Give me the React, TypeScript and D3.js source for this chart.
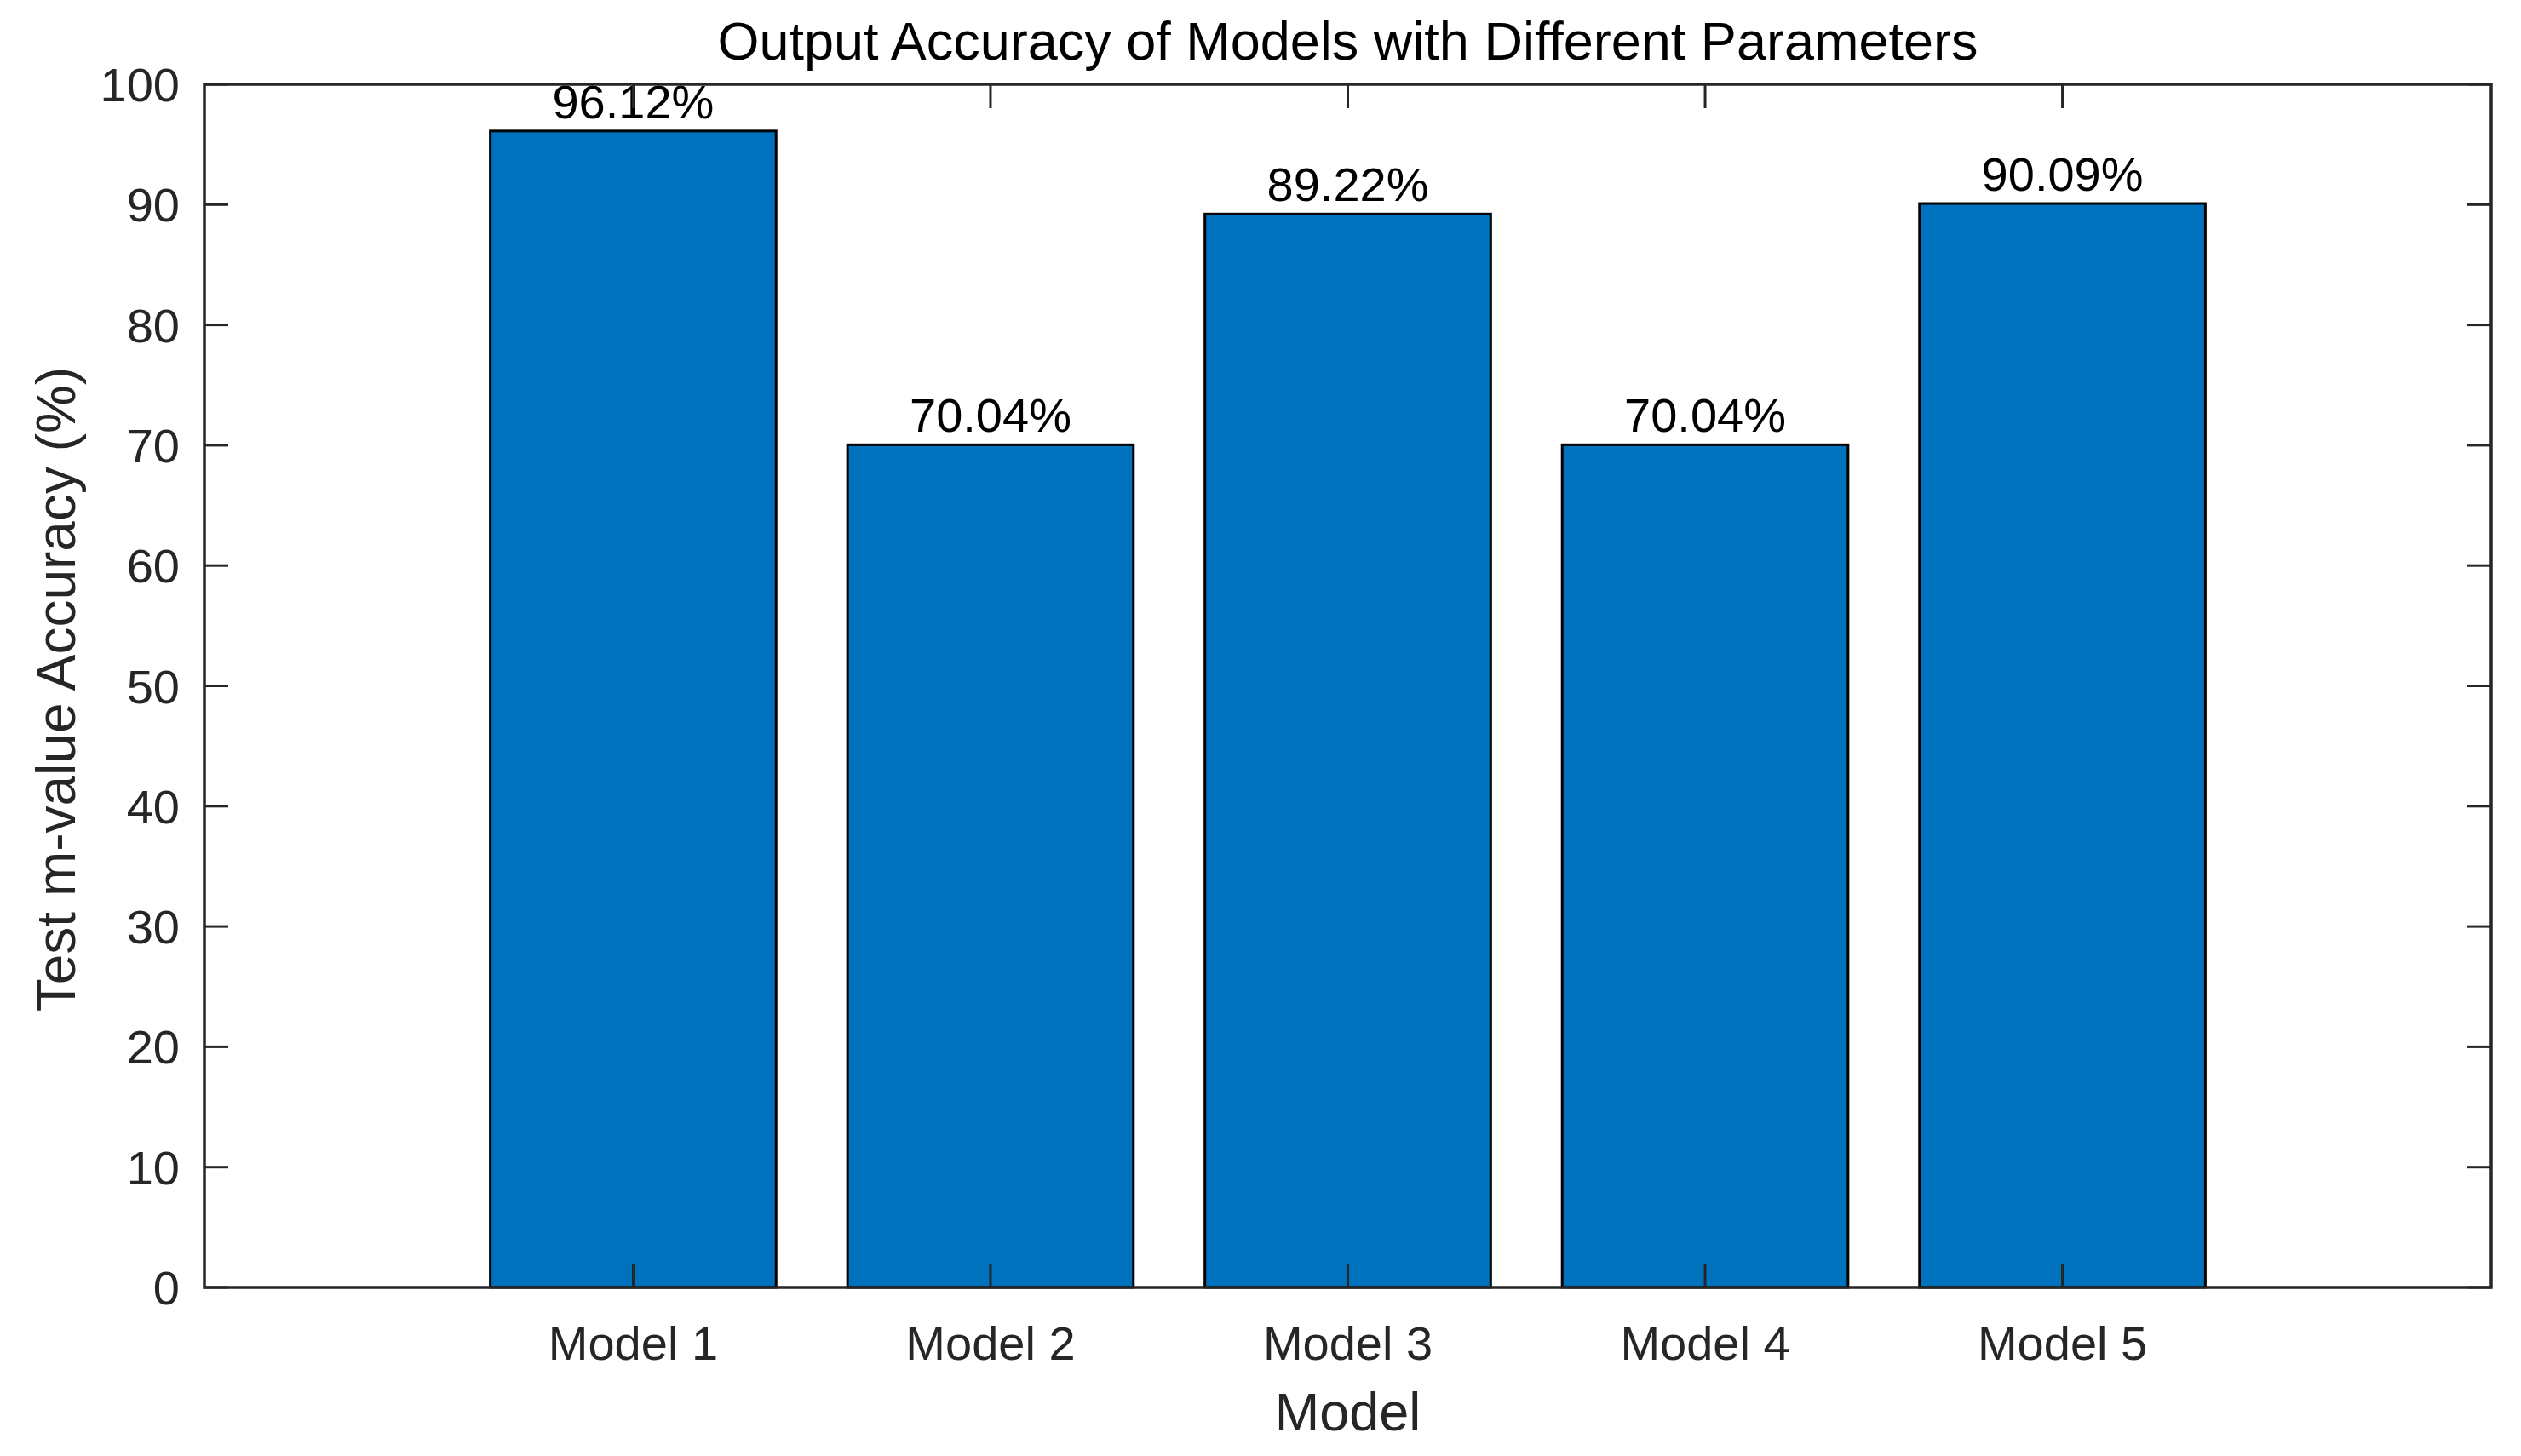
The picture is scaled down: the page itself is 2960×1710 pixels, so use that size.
import React from "react";
import * as d3 from "d3";

const categories = ["Model 1", "Model 2", "Model 3", "Model 4", "Model 5"];
const accuracy = [96.12, 70.04, 89.22, 70.04, 90.09];
const valueLabels = ["96.12%", "70.04%", "89.22%", "70.04%", "90.09%"];
const yTicks = [0, 10, 20, 30, 40, 50, 60, 70, 80, 90, 100];
const title = "Output Accuracy of Models with Different Parameters";
const xLabel = "Model";
const yLabel = "Test m-value Accuracy (%)";

const W = 2960;
const H = 1710;
const left = 240;
const right = 2925;
const top = 99;
const bottom = 1512;
const font = "'Liberation Sans', Arial, Helvetica, sans-serif";
const axisColor = "#262626";
const tickLen = 28;

export default function App() {
  const x = d3.scaleLinear().domain([-0.2, 6.2]).range([left, right]);
  const y = d3.scaleLinear().domain([0, 100]).range([bottom, top]);
  const barW = x(0.8) - x(0);

  return (
    <svg
      width={W}
      height={H}
      style={{ position: "absolute", left: 0, top: 0, background: "#fff" }}
      xmlns="http://www.w3.org/2000/svg"
    >
      <rect x={0} y={0} width={W} height={H} fill="#fff" />
      {categories.map((c, i) => (
        <rect
          key={c}
          x={x(i + 1) - barW / 2}
          y={y(accuracy[i])}
          width={barW}
          height={y(0) - y(accuracy[i])}
          fill="#0072BD"
          stroke="#000"
          strokeWidth={3}
        />
      ))}
      {categories.map((c, i) => (
        <text
          key={"v" + c}
          x={x(i + 1)}
          y={y(accuracy[i]) - 15}
          textAnchor="middle"
          fontFamily={font}
          fontSize={56}
          fill="#000"
        >
          {valueLabels[i]}
        </text>
      ))}
      {categories.map((c, i) => (
        <g key={"t" + c}>
          <line x1={x(i + 1)} x2={x(i + 1)} y1={bottom} y2={bottom - tickLen} stroke={axisColor} strokeWidth={3} />
          <line x1={x(i + 1)} x2={x(i + 1)} y1={top} y2={top + tickLen} stroke={axisColor} strokeWidth={3} />
          <text x={x(i + 1)} y={1597} textAnchor="middle" fontFamily={font} fontSize={56} fill={axisColor}>
            {c}
          </text>
        </g>
      ))}
      {yTicks.map((t) => (
        <g key={"y" + t}>
          <line x1={left} x2={left + tickLen} y1={y(t)} y2={y(t)} stroke={axisColor} strokeWidth={3} />
          <line x1={right} x2={right - tickLen} y1={y(t)} y2={y(t)} stroke={axisColor} strokeWidth={3} />
          <text x={211} y={y(t) + 20} textAnchor="end" fontFamily={font} fontSize={56} fill={axisColor}>
            {t}
          </text>
        </g>
      ))}
      <rect x={left} y={top} width={right - left} height={bottom - top} fill="none" stroke={axisColor} strokeWidth={3.5} />
      <text x={(left + right) / 2} y={70} textAnchor="middle" fontFamily={font} fontSize={63} fill="#000">
        {title}
      </text>
      <text x={(left + right) / 2} y={1680} textAnchor="middle" fontFamily={font} fontSize={63} fill={axisColor}>
        {xLabel}
      </text>
      <text
        transform={`translate(88, ${(top + bottom) / 2 + 4}) rotate(-90)`}
        textAnchor="middle"
        fontFamily={font}
        fontSize={64}
        fill={axisColor}
      >
        {yLabel}
      </text>
    </svg>
  );
}
